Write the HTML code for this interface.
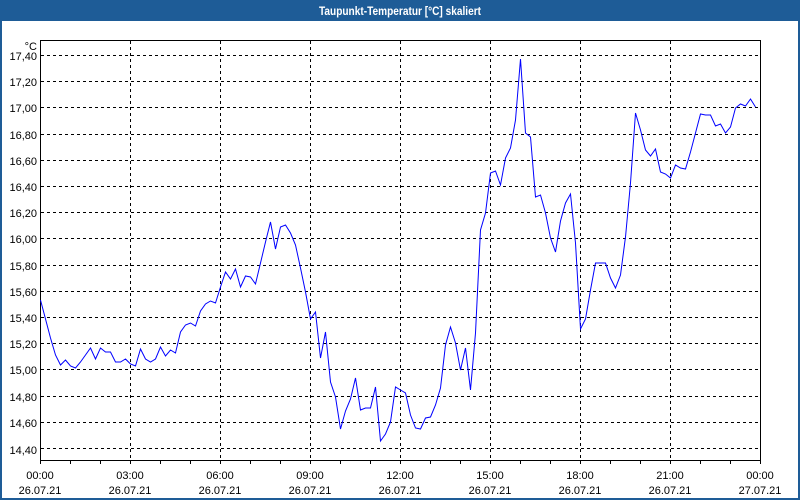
<!DOCTYPE html>
<html>
<head>
<meta charset="utf-8">
<style>
html,body{margin:0;padding:0;background:#fff;}
svg{display:block;}
text{font-family:"Liberation Sans",Tahoma,Verdana,sans-serif;}
</style>
</head>
<body>
<svg width="800" height="500" viewBox="0 0 800 500" xmlns="http://www.w3.org/2000/svg">
  <!-- frame -->
  <rect x="0" y="0" width="800" height="500" fill="#1e5c97"/>
  <rect x="2" y="21" width="796" height="477" fill="#ffffff"/>
  <text x="400" y="15" font-size="12" font-weight="bold" fill="#ffffff" text-anchor="middle" textLength="162" lengthAdjust="spacingAndGlyphs">Taupunkt-Temperatur [°C] skaliert</text>

  <!-- horizontal grid -->
  <g stroke="#000" stroke-width="1" stroke-dasharray="3,3" shape-rendering="crispEdges">
    <line x1="41" y1="55.5" x2="760" y2="55.5"/>
    <line x1="41" y1="81.5" x2="760" y2="81.5"/>
    <line x1="41" y1="107.5" x2="760" y2="107.5"/>
    <line x1="41" y1="134.5" x2="760" y2="134.5"/>
    <line x1="41" y1="160.5" x2="760" y2="160.5"/>
    <line x1="41" y1="186.5" x2="760" y2="186.5"/>
    <line x1="41" y1="212.5" x2="760" y2="212.5"/>
    <line x1="41" y1="238.5" x2="760" y2="238.5"/>
    <line x1="41" y1="265.5" x2="760" y2="265.5"/>
    <line x1="41" y1="291.5" x2="760" y2="291.5"/>
    <line x1="41" y1="317.5" x2="760" y2="317.5"/>
    <line x1="41" y1="343.5" x2="760" y2="343.5"/>
    <line x1="41" y1="369.5" x2="760" y2="369.5"/>
    <line x1="41" y1="396.5" x2="760" y2="396.5"/>
    <line x1="41" y1="422.5" x2="760" y2="422.5"/>
    <line x1="41" y1="448.5" x2="760" y2="448.5"/>
  </g>
  <!-- vertical grid -->
  <g stroke="#000" stroke-width="1" stroke-dasharray="3,3" shape-rendering="crispEdges">
    <line x1="130.5" y1="41" x2="130.5" y2="460"/>
    <line x1="220.5" y1="41" x2="220.5" y2="460"/>
    <line x1="310.5" y1="41" x2="310.5" y2="460"/>
    <line x1="400.5" y1="41" x2="400.5" y2="460"/>
    <line x1="490.5" y1="41" x2="490.5" y2="460"/>
    <line x1="580.5" y1="41" x2="580.5" y2="460"/>
    <line x1="670.5" y1="41" x2="670.5" y2="460"/>
  </g>

  <!-- axes box -->
  <rect x="40.5" y="40.5" width="720" height="420" fill="none" stroke="#000" stroke-width="1" shape-rendering="crispEdges"/>

  <!-- hour ticks -->
  <g stroke="#000" stroke-width="1" shape-rendering="crispEdges">
    <line x1="40.5" y1="461" x2="40.5" y2="464"/>
    <line x1="70.5" y1="461" x2="70.5" y2="464"/>
    <line x1="100.5" y1="461" x2="100.5" y2="464"/>
    <line x1="130.5" y1="461" x2="130.5" y2="464"/>
    <line x1="160.5" y1="461" x2="160.5" y2="464"/>
    <line x1="190.5" y1="461" x2="190.5" y2="464"/>
    <line x1="220.5" y1="461" x2="220.5" y2="464"/>
    <line x1="250.5" y1="461" x2="250.5" y2="464"/>
    <line x1="280.5" y1="461" x2="280.5" y2="464"/>
    <line x1="310.5" y1="461" x2="310.5" y2="464"/>
    <line x1="340.5" y1="461" x2="340.5" y2="464"/>
    <line x1="370.5" y1="461" x2="370.5" y2="464"/>
    <line x1="400.5" y1="461" x2="400.5" y2="464"/>
    <line x1="430.5" y1="461" x2="430.5" y2="464"/>
    <line x1="460.5" y1="461" x2="460.5" y2="464"/>
    <line x1="490.5" y1="461" x2="490.5" y2="464"/>
    <line x1="520.5" y1="461" x2="520.5" y2="464"/>
    <line x1="550.5" y1="461" x2="550.5" y2="464"/>
    <line x1="580.5" y1="461" x2="580.5" y2="464"/>
    <line x1="610.5" y1="461" x2="610.5" y2="464"/>
    <line x1="640.5" y1="461" x2="640.5" y2="464"/>
    <line x1="670.5" y1="461" x2="670.5" y2="464"/>
    <line x1="700.5" y1="461" x2="700.5" y2="464"/>
    <line x1="730.5" y1="461" x2="730.5" y2="464"/>
    <line x1="760.5" y1="461" x2="760.5" y2="464"/>
  </g>

  <!-- y labels -->
  <g font-size="11" fill="#000" text-anchor="end">
    <text x="37" y="50">°C</text>
    <text x="37" y="60">17,40</text>
    <text x="37" y="86">17,20</text>
    <text x="37" y="112">17,00</text>
    <text x="37" y="139">16,80</text>
    <text x="37" y="165">16,60</text>
    <text x="37" y="191">16,40</text>
    <text x="37" y="217">16,20</text>
    <text x="37" y="243">16,00</text>
    <text x="37" y="270">15,80</text>
    <text x="37" y="296">15,60</text>
    <text x="37" y="322">15,40</text>
    <text x="37" y="348">15,20</text>
    <text x="37" y="374">15,00</text>
    <text x="37" y="401">14,80</text>
    <text x="37" y="427">14,60</text>
    <text x="37" y="454">14,40</text>
  </g>

  <!-- x labels -->
  <g font-size="11" fill="#000" text-anchor="middle">
    <text x="40" y="479">00:00</text><text x="40" y="494">26.07.21</text>
    <text x="130" y="479">03:00</text><text x="130" y="494">26.07.21</text>
    <text x="220" y="479">06:00</text><text x="220" y="494">26.07.21</text>
    <text x="310" y="479">09:00</text><text x="310" y="494">26.07.21</text>
    <text x="400" y="479">12:00</text><text x="400" y="494">26.07.21</text>
    <text x="490" y="479">15:00</text><text x="490" y="494">26.07.21</text>
    <text x="580" y="479">18:00</text><text x="580" y="494">26.07.21</text>
    <text x="670" y="479">21:00</text><text x="670" y="494">26.07.21</text>
    <text x="760" y="479">00:00</text><text x="760" y="494">27.07.21</text>
  </g>

  <!-- data line -->
  <polyline fill="none" stroke="#0000ff" stroke-width="1" stroke-linejoin="miter"
    points="40.5,300 45.5,319 50.5,338 55.5,355 60.5,365 65.5,360 70.5,366 75.5,368 80.5,362 85.5,355 90.5,348 95.5,359 100.5,348 105.5,352 110.5,352 115.5,362 120.5,362 125.5,359 130.5,364 135.5,366 140.5,349 145.5,359 150.5,362 155.5,359 160.5,347 165.5,356 170.5,350 175.5,353 180.5,332 185.5,325 190.5,323 195.5,326 200.5,311 205.5,304 210.5,301 215.5,303 220.5,287 225.5,272 230.5,279 235.5,269 240.5,287 245.5,276 250.5,277 255.5,284 260.5,263 265.5,242 270.5,222 275.5,249 280.5,227 285.5,225 290.5,233 295.5,245 300.5,268 305.5,292 310.5,319 315.5,312 320.5,358 325.5,332 330.5,382 335.5,397 340.5,429 345.5,411 350.5,399 355.5,378 360.5,410 365.5,408 370.5,408 375.5,387 380.5,441 385.5,434 390.5,422 395.5,387 400.5,390 405.5,393 410.5,415 415.5,428 420.5,429 425.5,418 430.5,417 435.5,405 440.5,388 445.5,345 450.5,327 455.5,343 460.5,370 465.5,348 470.5,390 475.5,333 480.5,230 485.5,213 490.5,173 495.5,171 500.5,185 505.5,158 510.5,148 515.5,120 520.5,59 525.5,133 530.5,137 535.5,197 540.5,195 545.5,213 550.5,238 555.5,252 560.5,221 565.5,203 570.5,194 575.5,243 580.5,329 585.5,319 590.5,290 595.5,263 600.5,263 605.5,263 610.5,278 615.5,288 620.5,275 625.5,237 630.5,183 635.5,113 640.5,130 645.5,150 650.5,156 655.5,149 660.5,172 665.5,174 670.5,178 675.5,165 680.5,168 685.5,169 690.5,152 695.5,133 700.5,114 705.5,115 710.5,115 715.5,126 720.5,124 725.5,133 730.5,127 735.5,108 740.5,104 745.5,106 750.5,99 755.5,107"/>
</svg>
</body>
</html>
